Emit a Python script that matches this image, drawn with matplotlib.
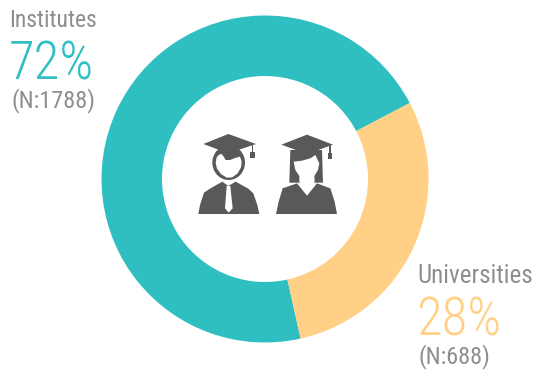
from matplotlib import pyplot as plt
from matplotlib.patches import Polygon, Ellipse, Rectangle
from matplotlib.transforms import Affine2D

# wedge sizes measured off the ring, the labels give the printed numbers
groups = ['Institutes', 'Universities']
shares = [70.8, 29.2]
percent_labels = ['72%', '28%']
count_labels = ['(N:1788)', '(N:688)']

TEAL = '#2fbfc1'
ORANGE = '#ffd085'
GREY = '#8e8e92'
DARK = '#58595b'
W, H = 535, 371

plt.rcParams['font.family'] = ['Roboto Condensed', 'Roboto', 'DejaVu Sans']
fig = plt.figure(figsize=(W / 100, H / 100), dpi=100)

# ring, placed by its pixel box
cx, cy, R = 265, 179, 163.5
ax = fig.add_axes([(cx - R) / W, 1 - (cy + R) / H, 2 * R / W, 2 * R / H])
ax.pie(shares, colors=[TEAL, ORANGE], startangle=-77.4 + 105.1, radius=1,
       wedgeprops={'width': 60.5 / 163.5, 'linewidth': 0})
ax.set_xlim(-1, 1)
ax.set_ylim(-1, 1)

# overlay in reference pixels for text and the icons
ov = fig.add_axes([0, 0, 1, 1])
ov.set_xlim(0, W)
ov.set_ylim(H, 0)
ov.axis('off')

ov.text(9, 27, groups[0], color=GREY, fontsize=17, va='baseline')
ov.text(9, 79, percent_labels[0], color=TEAL, fontsize=38, weight=300, va='baseline')
ov.text(11.5, 107, count_labels[0], color=GREY, fontsize=17.5, va='baseline')
ov.text(417, 283, groups[1], color=GREY, fontsize=18, va='baseline')
ov.text(416, 335, percent_labels[1], color=ORANGE, fontsize=38, weight=300, va='baseline')
ov.text(418, 363, count_labels[1], color=GREY, fontsize=17.5, va='baseline')


def poly(points, tr, color=DARK):
    ov.add_patch(Polygon(points, closed=True, fc=color, ec='none', transform=tr))


# man, coordinates are from a 3x crop starting at (195,130)
man = Affine2D().scale(1 / 3).translate(195, 130) + ov.transData
poly([(10, 252), (15, 225), (27, 188), (45, 176), (82, 155), (100, 168), (122, 155), (160, 176), (175, 190),
      (187, 225), (193, 252)], man)
poly([(80, 147), (100, 166), (122, 147), (110, 138), (90, 138)], man, 'white')
poly([(95, 168), (106, 168), (113, 235), (101, 248), (90, 235)], man, 'white')
ov.add_patch(Ellipse((101, 98), 98, 104, fc=DARK, ec='none', transform=man))
poly([(62, 98), (65, 82), (72, 74), (80, 72), (86, 80), (92, 90), (105, 90), (120, 84), (135, 80), (140, 95),
      (138, 112), (128, 130), (112, 142), (95, 143), (78, 132), (66, 116)], man, 'white')
poly([(100, 12), (183, 42), (100, 70), (25, 42)], man)
ov.add_patch(Rectangle((170, 42), 5, 26, fc=DARK, ec='none', transform=man))
ov.add_patch(Rectangle((166, 66), 15, 18, fc=DARK, ec='none', transform=man))

# woman, coordinates are from a 3x crop starting at (272,130)
woman = Affine2D().scale(1 / 3).translate(272, 130) + ov.transData
poly([(12, 252), (20, 215), (32, 175), (75, 160), (105, 197), (135, 160), (175, 175), (188, 215), (195, 252)], woman)
poly([(55, 60), (150, 60), (153, 158), (135, 158), (75, 158), (52, 158)], woman)
poly([(65, 95), (90, 92), (115, 85), (130, 75), (142, 100), (138, 120), (127, 138), (128, 155), (105, 185),
      (82, 155), (82, 138), (70, 120)], woman, 'white')
poly([(105, 14), (183, 44), (105, 72), (28, 44)], woman)
ov.add_patch(Rectangle((172, 44), 4, 26, fc=DARK, ec='none', transform=woman))
ov.add_patch(Rectangle((168, 68), 13, 18, fc=DARK, ec='none', transform=woman))

fig.savefig('out.png', dpi=100)
